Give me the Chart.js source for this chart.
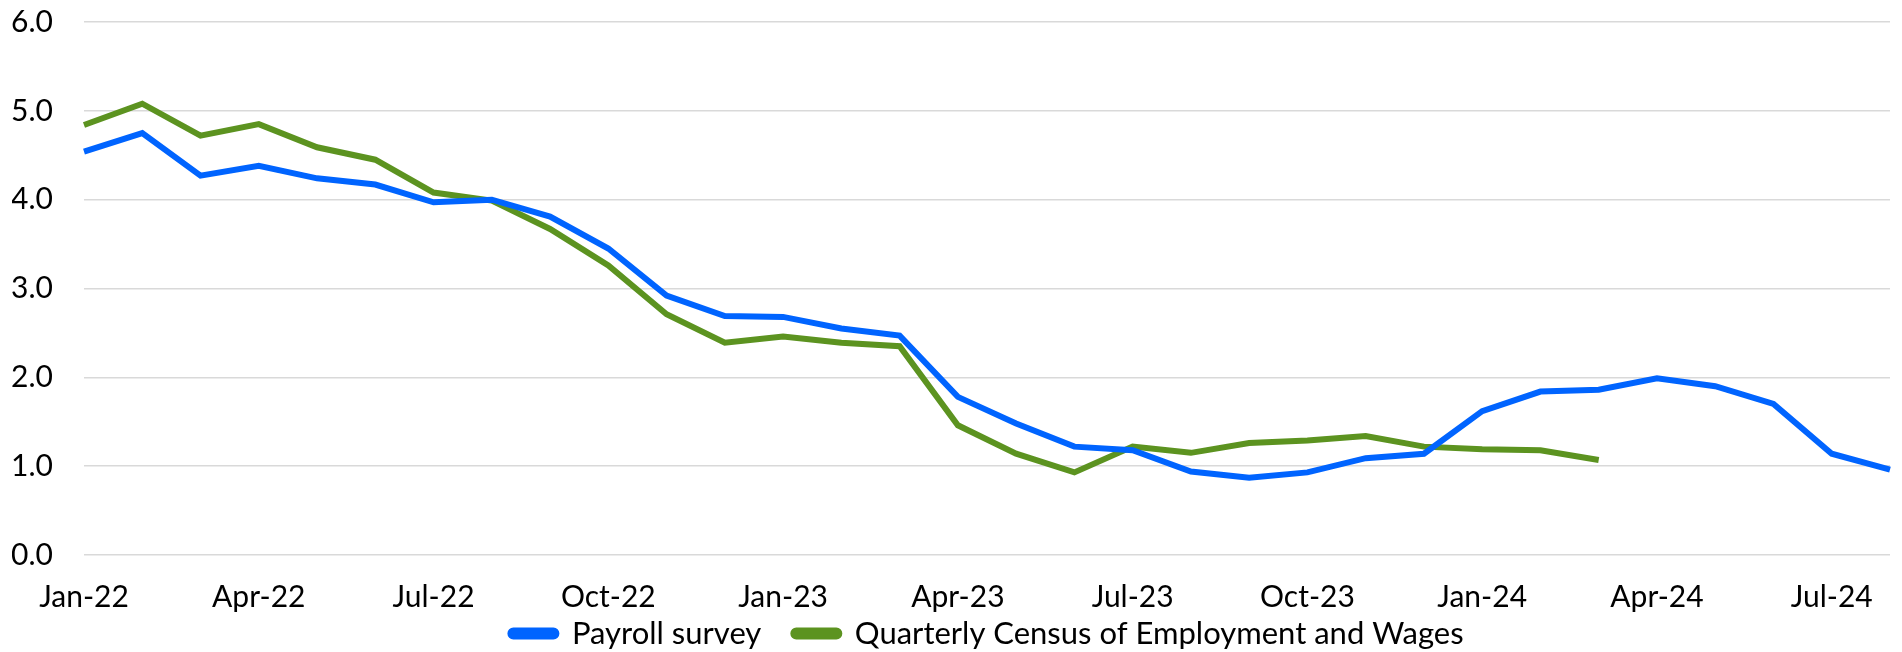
<!DOCTYPE html>
<html>
<head>
<meta charset="utf-8">
<script src="https://cdn.jsdelivr.net/npm/chart.js@4.4.1/dist/chart.umd.min.js"></script>
<style>
    html, body { margin: 0; padding: 0; background: #fff; }
    #wrap { width: 1902px; height: 652px; position: relative; }
</style>
</head>
<body>
<div id="wrap"><canvas id="jobsChart"></canvas></div>
<script>
const months = [
    'Jan-22','Feb-22','Mar-22','Apr-22','May-22','Jun-22','Jul-22','Aug-22','Sep-22','Oct-22','Nov-22','Dec-22',
    'Jan-23','Feb-23','Mar-23','Apr-23','May-23','Jun-23','Jul-23','Aug-23','Sep-23','Oct-23','Nov-23','Dec-23',
    'Jan-24','Feb-24','Mar-24','Apr-24','May-24','Jun-24','Jul-24','Aug-24'
];

const payroll = [
    4.54, 4.75, 4.27, 4.38, 4.24, 4.17, 3.97, 4.00, 3.81, 3.45, 2.92, 2.69,
    2.68, 2.55, 2.47, 1.78, 1.48, 1.22, 1.18, 0.94, 0.87, 0.93, 1.09, 1.14,
    1.62, 1.84, 1.86, 1.99, 1.90, 1.70, 1.14, 0.96
];

const qcew = [
    4.84, 5.08, 4.72, 4.85, 4.59, 4.45, 4.08, 3.99, 3.67, 3.26, 2.71, 2.39,
    2.46, 2.39, 2.35, 1.46, 1.14, 0.93, 1.22, 1.15, 1.26, 1.29, 1.34, 1.22,
    1.19, 1.18, 1.07, null, null, null, null, null
];

const yTicks = [0, 1, 2, 3, 4, 5, 6];

// legend padding also spaces the items apart; pull the row back up afterwards
const legendLift = {
    id: 'legendLift',
    afterLayout(chart) {
        const lg = chart.legend;
        lg.top -= lg.options.labels.padding - 3;
    }
};

window.addEventListener('DOMContentLoaded', function() {
    const ctx = document.getElementById('jobsChart').getContext('2d');
    const tickFont = { family: 'Lato', size: 30 };
    const legendFont = { family: 'Lato', size: 31 };

    new Chart(ctx, {
        type: 'line',
        data: {
            labels: months,
            datasets: [{
                label: 'Payroll survey',
                data: payroll,
                borderColor: '#0064ff',
                backgroundColor: '#0064ff',
                borderWidth: 6,
                pointRadius: 0,
                tension: 0
            }, {
                label: 'Quarterly Census of Employment and Wages',
                data: qcew,
                borderColor: '#5c9320',
                backgroundColor: '#5c9320',
                borderWidth: 6,
                pointRadius: 0,
                tension: 0
            }]
        },
        plugins: [legendLift],
        options: {
            responsive: true,
            maintainAspectRatio: false,
            animation: false,
            layout: { padding: { left: 12, right: 12, top: 0, bottom: 0 } },
            plugins: {
                tooltip: { enabled: false },
                legend: {
                    position: 'bottom',
                    fullSize: false,
                    maxHeight: 37,
                    labels: {
                        font: legendFont,
                        color: '#000',
                        boxWidth: 46,
                        boxHeight: 6,
                        useBorderRadius: true,
                        borderRadius: 3,
                        padding: 32
                    }
                }
            },
            scales: {
                x: {
                    offset: false,
                    grid: { display: false, drawTicks: false },
                    border: { display: false },
                    afterFit: (axis) => {
                        axis.height = 60;
                        axis.paddingLeft = 0;
                        axis.paddingRight = 0;
                    },
                    ticks: {
                        font: tickFont,
                        color: '#000',
                        autoSkip: false,
                        maxRotation: 0,
                        padding: 24,
                        callback: (v, i) => i % 3 === 0 ? months[i] : ''
                    }
                },
                y: {
                    min: 0,
                    max: 6,
                    afterBuildTicks: (axis) => { axis.ticks = yTicks.map(v => ({ value: v })); },
                    afterFit: (axis) => {
                        axis.width = 72;
                        axis.paddingTop = 22;
                        axis.paddingBottom = 0;
                    },
                    grid: { color: '#d9d9d9', lineWidth: 1.5, drawTicks: false },
                    border: { display: false },
                    ticks: {
                        font: tickFont,
                        color: '#000',
                        padding: 31,
                        callback: (v) => Number(v).toFixed(1)
                    }
                }
            }
        }
    });
});
</script>
</body>
</html>
